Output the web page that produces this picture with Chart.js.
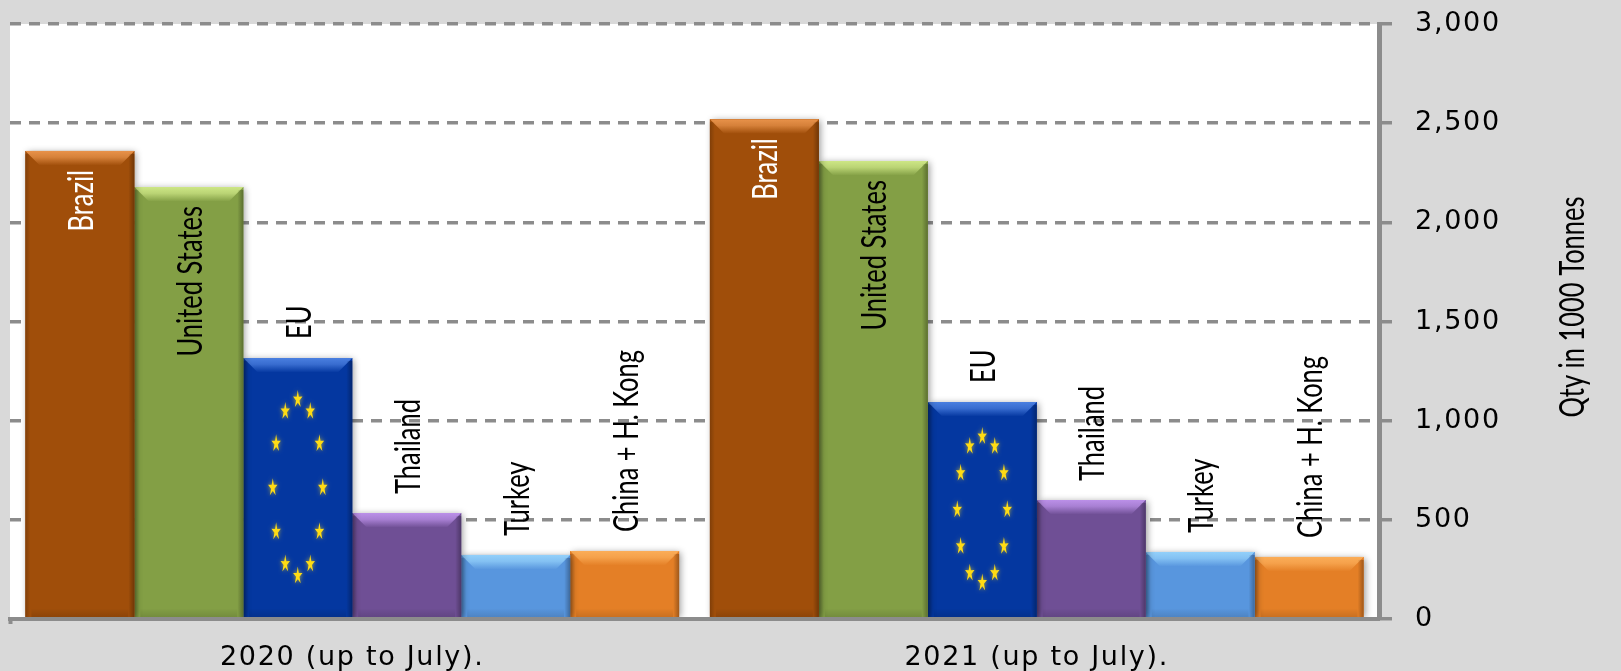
<!DOCTYPE html>
<html>
<head>
<meta charset="utf-8">
<title>Qty in 1000 Tonnes</title>
<script src="https://cdn.jsdelivr.net/npm/chart.js@4/dist/chart.umd.min.js"></script>
<style>
    html, body { margin: 0; padding: 0; background: #d9d9d9; }
    canvas { display: block; }
</style>
</head>
<body>
<canvas id="chart" width="1621" height="671"></canvas>
<script>
const periods = ['2020 (up to July).', '2021 (up to July).'];
const countries = ['Brazil', 'United States', 'EU', 'Thailand', 'Turkey', 'China + H. Kong'];

const brazil = [2360, 2520];
const unitedStates = [2178, 2309];
const eu = [1316, 1094];
const thailand = [534, 600];
const turkey = [323, 338];
const chinaHk = [343, 313];

const barColors = ['#a04e0a', '#839f45', '#0437a0', '#6f4f95', '#5896de', '#e47f26'];
const bevelColors = ['#e8924a', '#cde685', '#4a7fe0', '#bb90e8', '#93d0fa', '#fbad58'];
const labelColors = ['#ffffff', '#000000', '#000000', '#000000', '#000000', '#000000'];
const labelsInside = ['Brazil', 'United States'];
const yTicks = [0, 500, 1000, 1500, 2000, 2500, 3000];

const GREY = '#8c8c8c';
const LABEL_FONT = '34px Lato';
const LABEL_SQUEEZE = 0.75;

function rotatedText(ctx, text, x, y, align, color) {
    ctx.save();
    ctx.letterSpacing = '0px';
    ctx.translate(x, y);
    ctx.rotate(-Math.PI / 2);
    ctx.scale(LABEL_SQUEEZE, 1);
    ctx.font = LABEL_FONT;
    ctx.fillStyle = color;
    ctx.textAlign = align;
    ctx.textBaseline = 'middle';
    ctx.fillText(text, 0, 0);
    ctx.restore();
}

function withAlpha(hex, alpha) {
    const n = parseInt(hex.slice(1), 16);
    return `rgba(${n >> 16}, ${(n >> 8) & 255}, ${n & 255}, ${alpha})`;
}

function drawBevel(ctx, bar, bevelColor) {
    const left = bar.x - bar.width / 2;
    const right = bar.x + bar.width / 2;
    const top = bar.y;
    const bottom = bar.base;
    const inset = 14;
    const depth = 14;

    // bevelled top, fades into the bar
    const fade = ctx.createLinearGradient(0, top, 0, top + depth);
    fade.addColorStop(0, withAlpha(bevelColor, 1));
    fade.addColorStop(0.45, withAlpha(bevelColor, 0.75));
    fade.addColorStop(1, withAlpha(bevelColor, 0.05));
    ctx.fillStyle = fade;
    ctx.beginPath();
    ctx.moveTo(left, top);
    ctx.lineTo(right, top);
    ctx.lineTo(right - inset, top + depth);
    ctx.lineTo(left + inset, top + depth);
    ctx.closePath();
    ctx.fill();

    // dark edges
    let g = ctx.createLinearGradient(left, 0, left + 5, 0);
    g.addColorStop(0, 'rgba(0,0,0,0.2)');
    g.addColorStop(1, 'rgba(0,0,0,0)');
    ctx.fillStyle = g;
    ctx.fillRect(left, top + 3, 5, bottom - top - 3);

    g = ctx.createLinearGradient(right - 6, 0, right, 0);
    g.addColorStop(0, 'rgba(0,0,0,0)');
    g.addColorStop(1, 'rgba(0,0,0,0.3)');
    ctx.fillStyle = g;
    ctx.fillRect(right - 6, top + 3, 6, bottom - top - 3);

    g = ctx.createLinearGradient(0, bottom - 9, 0, bottom);
    g.addColorStop(0, 'rgba(0,0,0,0)');
    g.addColorStop(1, 'rgba(0,0,0,0.12)');
    ctx.fillStyle = g;
    ctx.fillRect(left + 6, bottom - 9, bar.width - 12, 9);
}

function drawStar(ctx, x, y) {
    ctx.save();
    ctx.translate(x, y);
    ctx.scale(0.9, 1.7);
    ctx.beginPath();
    for (let i = 0; i < 10; i++) {
        const r = i % 2 ? 2 : 5.5;
        const a = -Math.PI / 2 + i * Math.PI / 5;
        ctx.lineTo(r * Math.cos(a), r * Math.sin(a));
    }
    ctx.closePath();
    ctx.fill();
    ctx.restore();
}

// EU flag ring, sized from the bar itself
function drawStars(ctx, bar) {
    const cy = (bar.y + bar.base) / 2;
    const ry = (bar.base - bar.y) * 0.34;
    ctx.save();
    ctx.fillStyle = '#ffdc14';
    ctx.shadowColor = 'rgba(255,220,20,0.7)';
    ctx.shadowBlur = 4;
    for (let i = 0; i < 12; i++) {
        const a = i * Math.PI / 6;
        drawStar(ctx, bar.x + 25 * Math.sin(a), cy - ry * Math.cos(a));
    }
    ctx.restore();
}

const paintPlugin = {
    id: 'paint',
    beforeDraw(chart) {
        const { ctx, chartArea: a } = chart;
        ctx.save();
        ctx.fillStyle = '#d9d9d9';
        ctx.fillRect(0, 0, chart.width, chart.height);
        ctx.fillStyle = '#ffffff';
        ctx.fillRect(a.left, a.top, a.right - a.left, a.bottom - a.top);
        ctx.restore();
        // the reference's axis numbers are set wide
        ctx.letterSpacing = '1.7px';
    },
    beforeDatasetDraw(chart, args) {
        const { ctx, chartArea: a } = chart;
        ctx.save();
        ctx.beginPath();
        ctx.rect(a.left, 0, a.right - a.left, a.bottom);
        ctx.clip();
        ctx.shadowColor = 'rgba(0,0,0,0.4)';
        ctx.shadowBlur = 7;
        ctx.shadowOffsetX = 2;
        ctx.shadowOffsetY = 1;
        ctx.fillStyle = barColors[args.index];
        args.meta.data.forEach(bar => {
            ctx.fillRect(bar.x - bar.width / 2, bar.y, bar.width, bar.base - bar.y);
        });
        ctx.restore();
    },
    afterDatasetDraw(chart, args) {
        const ctx = chart.ctx;
        ctx.save();
        args.meta.data.forEach(bar => {
            drawBevel(ctx, bar, bevelColors[args.index]);
            if (countries[args.index] === 'EU') drawStars(ctx, bar);
        });
        ctx.restore();
    },
    afterDatasetsDraw(chart) {
        const ctx = chart.ctx;
        chart.data.datasets.forEach((ds, i) => {
            const inside = labelsInside.includes(ds.label);
            chart.getDatasetMeta(i).data.forEach(bar => {
                const y = inside ? bar.y + 19 : bar.y - 19;
                rotatedText(ctx, ds.label, bar.x + 2, y, inside ? 'right' : 'left', labelColors[i]);
            });
        });
        rotatedText(ctx, 'Qty in 1000 Tonnes', 1573, 307, 'center', '#000000');
    }
};

new Chart(document.getElementById('chart'), {
    type: 'bar',
    data: {
        labels: periods,
        datasets: [
            { label: countries[0], data: brazil },
            { label: countries[1], data: unitedStates },
            { label: countries[2], data: eu },
            { label: countries[3], data: thailand },
            { label: countries[4], data: turkey },
            { label: countries[5], data: chinaHk }
        ].map((d, i) => ({ ...d, backgroundColor: barColors[i], barPercentage: 1, categoryPercentage: 0.955 }))
    },
    options: {
        responsive: false,
        animation: false,
        devicePixelRatio: 1,
        layout: { padding: { left: 10, top: 24, right: 0, bottom: 0 } },
        plugins: { legend: { display: false }, title: { display: false }, tooltip: { enabled: false } },
        scales: {
            x: {
                afterFit(scale) {
                    scale.height = 52;
                    scale.paddingLeft = 0;
                    scale.paddingRight = 0;
                },
                grid: {
                    drawOnChartArea: false,
                    tickLength: 5,
                    tickWidth: 4,
                    tickColor: c => c.index === 0 ? GREY : 'transparent'
                },
                border: { color: GREY, width: 4, z: 1 },
                ticks: { color: '#000000', padding: 18, maxRotation: 0, font: { family: 'DejaVu Sans', size: 27 } }
            },
            y: {
                position: 'right',
                min: 0,
                max: 3000,
                afterFit(scale) {
                    scale.width = 242;
                    scale.paddingTop = 0;
                    scale.paddingBottom = 0;
                },
                afterBuildTicks(scale) { scale.ticks = yTicks.map(v => ({ value: v })); },
                grid: {
                    color: GREY,
                    lineWidth: 3.5,
                    tickLength: 13,
                    tickColor: GREY,
                    tickWidth: 3.5,
                    tickBorderDash: []
                },
                border: { color: GREY, width: 5, dash: [11, 8] },
                ticks: {
                    color: '#000000',
                    padding: 23,
                    font: { family: 'DejaVu Sans', size: 27 },
                    callback: v => v.toLocaleString('en-US')
                }
            }
        }
    },
    plugins: [paintPlugin]
});
</script>
</body>
</html>
